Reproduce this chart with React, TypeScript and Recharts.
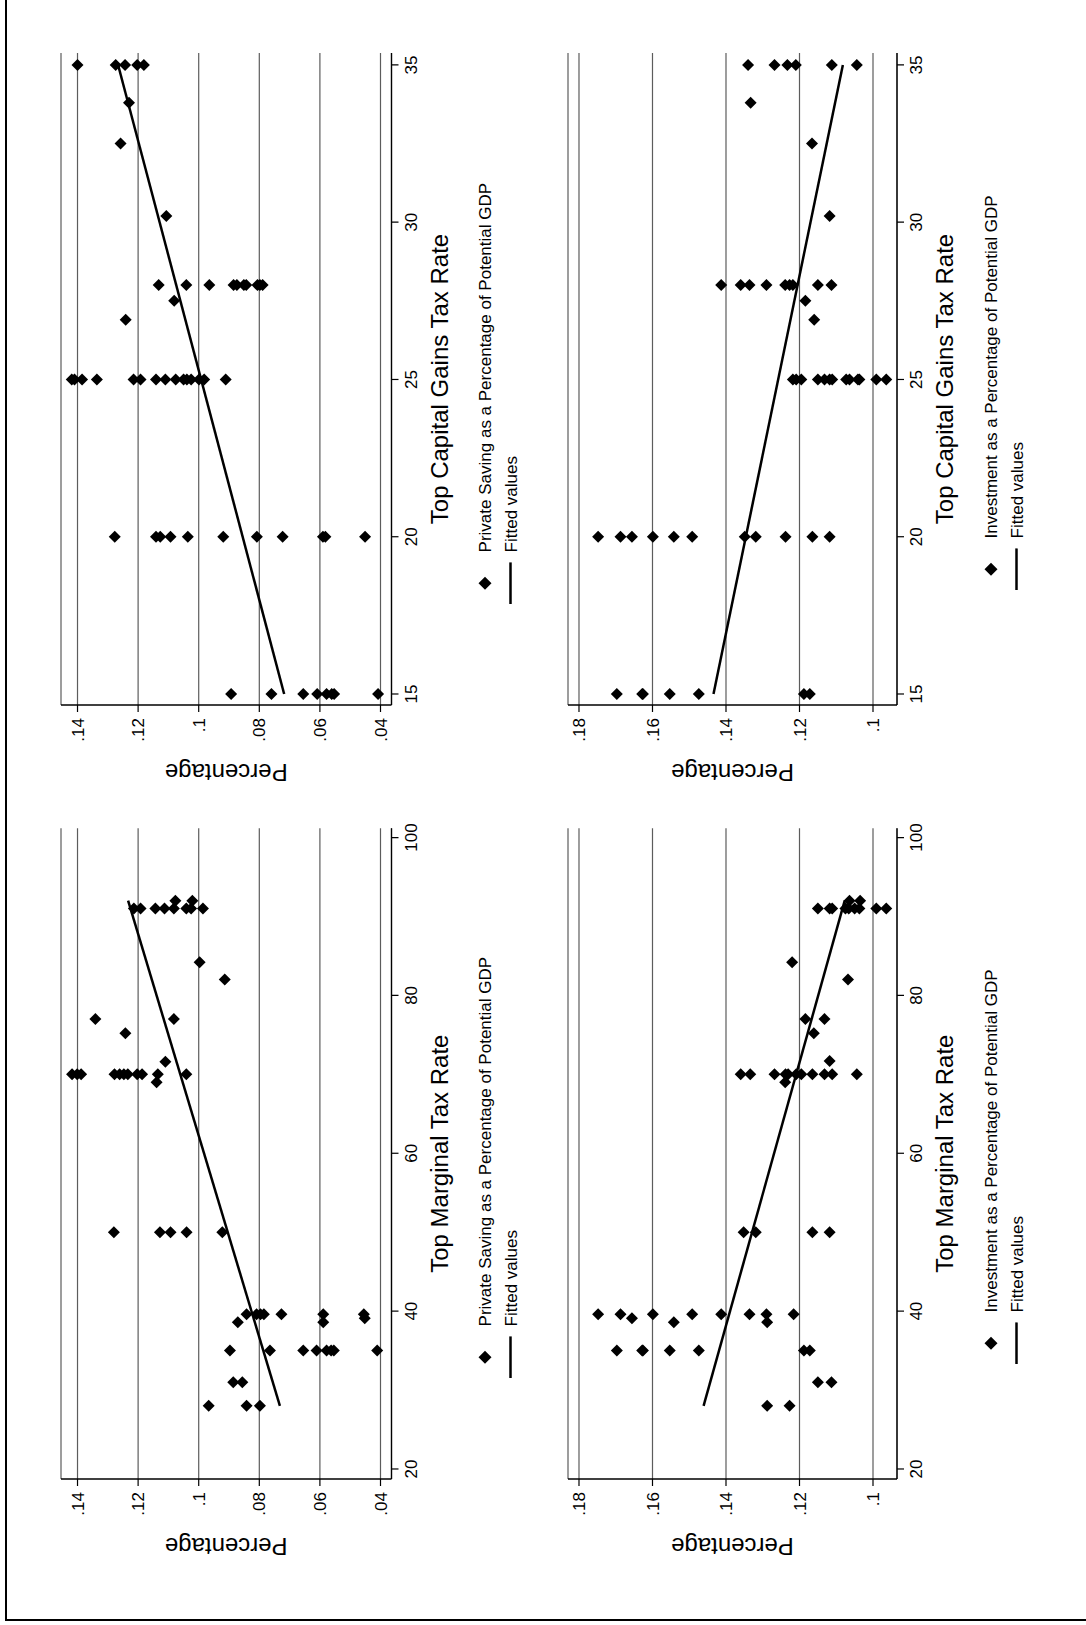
import React from 'react';
import { ScatterChart, Scatter, XAxis, YAxis, CartesianGrid, Legend } from 'recharts';

const FONT = '"Liberation Sans", Arial, Helvetica, sans-serif';

// axis ticks
const marginalTicks = [20, 40, 60, 80, 100];
const capGainsTicks = [15, 20, 25, 30, 35];
const savingTicks = [0.04, 0.06, 0.08, 0.1, 0.12, 0.14];
const investTicks = [0.1, 0.12, 0.14, 0.16, 0.18];

// [top tax rate, share of potential GDP]
const savingMarginal: [number, number][] = [
  [91, 0.1214], [91, 0.1192], [91, 0.1143], [91, 0.1113], [91, 0.1082], [91, 0.1041], [91, 0.1025], [91, 0.0986],
  [92, 0.1077], [92, 0.1021],
  [84.2, 0.0997], [82, 0.0914], [77, 0.1341], [77, 0.1082], [75.2, 0.1242], [71.6, 0.111],
  [70, 0.1418], [70, 0.1401], [70, 0.1388], [70, 0.1278], [70, 0.1261], [70, 0.1247], [70, 0.1234],
  [70, 0.1203], [70, 0.1187], [70, 0.1135], [70, 0.1041],
  [69, 0.1139],
  [50, 0.128], [50, 0.1128], [50, 0.1093], [50, 0.104], [50, 0.0922],
  [39.6, 0.0842], [39.6, 0.0809], [39.6, 0.0796], [39.6, 0.0785], [39.6, 0.0727], [39.6, 0.0589], [39.6, 0.0455],
  [39.1, 0.0452], [38.6, 0.0871], [38.6, 0.0589],
  [35, 0.0897], [35, 0.0765], [35, 0.0655], [35, 0.0611], [35, 0.0578], [35, 0.0563], [35, 0.0554], [35, 0.0411],
  [31, 0.0886], [31, 0.0856],
  [28, 0.0967], [28, 0.0842], [28, 0.0798],
];

const investMarginal: [number, number][] = [
  [91, 0.115], [91, 0.1118], [91, 0.1111], [91, 0.1075], [91, 0.1066], [91, 0.105], [91, 0.1037], [91, 0.0991], [91, 0.0964],
  [92, 0.1064], [92, 0.1035],
  [84.2, 0.122], [82, 0.1068], [77, 0.1184], [77, 0.1132], [75.2, 0.1161], [71.7, 0.1118],
  [70, 0.136], [70, 0.1334], [70, 0.1268], [70, 0.1238], [70, 0.1231], [70, 0.1209], [70, 0.1195],
  [70, 0.1165], [70, 0.1132], [70, 0.1111], [70, 0.1044],
  [69, 0.1239],
  [50, 0.1352], [50, 0.1319], [50, 0.1165], [50, 0.1118],
  [39.6, 0.1748], [39.6, 0.1687], [39.6, 0.1599], [39.6, 0.1492], [39.6, 0.1413], [39.6, 0.1336], [39.6, 0.129], [39.6, 0.1216],
  [39.1, 0.1656], [38.6, 0.1542], [38.6, 0.1288],
  [35, 0.1697], [35, 0.1628], [35, 0.1626], [35, 0.1553], [35, 0.1474], [35, 0.1188], [35, 0.1172],
  [31, 0.115], [31, 0.1113],
  [28, 0.1288], [28, 0.1227],
];

const savingCapGains: [number, number][] = [
  [35, 0.14], [35, 0.1274], [35, 0.1243], [35, 0.1203], [35, 0.1181],
  [33.8, 0.123], [32.5, 0.1258], [30.2, 0.1107],
  [28, 0.1132], [28, 0.1041], [28, 0.0965], [28, 0.0885], [28, 0.0874], [28, 0.0851], [28, 0.0843],
  [28, 0.0806], [28, 0.0798], [28, 0.0789],
  [27.5, 0.1081], [26.9, 0.1241],
  [25, 0.1419], [25, 0.141], [25, 0.1385], [25, 0.1336], [25, 0.1215], [25, 0.1192], [25, 0.1141], [25, 0.111],
  [25, 0.1076], [25, 0.105], [25, 0.1039], [25, 0.1025], [25, 0.0999], [25, 0.0982], [25, 0.0911],
  [20, 0.1277], [20, 0.1141], [20, 0.1127], [20, 0.1093], [20, 0.1036], [20, 0.0919], [20, 0.0808],
  [20, 0.0723], [20, 0.059], [20, 0.0582], [20, 0.0451],
  [15, 0.0893], [15, 0.076], [15, 0.0655], [15, 0.0609], [15, 0.0578], [15, 0.0561], [15, 0.0553], [15, 0.0408],
];

const investCapGains: [number, number][] = [
  [35, 0.134], [35, 0.1268], [35, 0.1233], [35, 0.121], [35, 0.1112], [35, 0.1044],
  [33.8, 0.1333], [32.5, 0.1166], [30.2, 0.1118],
  [28, 0.1413], [28, 0.136], [28, 0.1336], [28, 0.129], [28, 0.1239], [28, 0.1227], [28, 0.1218], [28, 0.115], [28, 0.1113],
  [27.5, 0.1184], [26.9, 0.116],
  [25, 0.1218], [25, 0.1209], [25, 0.1195], [25, 0.115], [25, 0.1132], [25, 0.1118], [25, 0.1111],
  [25, 0.1073], [25, 0.1064], [25, 0.1041], [25, 0.1037], [25, 0.0991], [25, 0.0964],
  [20, 0.1748], [20, 0.1687], [20, 0.1656], [20, 0.1599], [20, 0.1542], [20, 0.1492], [20, 0.1349],
  [20, 0.1319], [20, 0.1238], [20, 0.1165], [20, 0.1118],
  [15, 0.1697], [15, 0.1628], [15, 0.1626], [15, 0.1553], [15, 0.1474], [15, 0.1188], [15, 0.1172],
];

// fitted values (end points of the regression line)
const savingMarginalFit: [number, number][] = [[28, 0.0732], [92, 0.1233]];
const savingCapGainsFit: [number, number][] = [[15, 0.0718], [35, 0.1266]];
const investMarginalFit: [number, number][] = [[28, 0.1461], [92, 0.1077]];
const investCapGainsFit: [number, number][] = [[15, 0.1434], [35, 0.1082]];

const toRows = (pairs: [number, number][]) => pairs.map(([rate, pct]) => ({ rate, pct }));

const fmtPct = (v: number) => v.toFixed(2).replace(/^0/, '').replace(/0$/, '');

const diamond = (cx: number, cy: number, r: number) =>
  `M${cx},${cy - r}L${cx + r},${cy}L${cx},${cy + r}L${cx - r},${cy}Z`;

const Diamond = (props: any) => <path d={diamond(props.cx, props.cy, 6)} fill="#000" />;

function LegendBox({ text }: { text: string }) {
  return (
    <svg width={480} height={54} style={{ overflow: 'visible', display: 'block' }}>
      <path d={diamond(20.8, 14, 6.5)} fill="#000" />
      <text x={51.6} y={14} dy="0.355em" fontSize={17} fill="#000" fontFamily={FONT}>{text}</text>
      <line x1={0} x2={41.6} y1={39.5} y2={39.5} stroke="#000" strokeWidth={2.5} />
      <text x={51.6} y={39.5} dy="0.355em" fontSize={17} fill="#000" fontFamily={FONT}>Fitted values</text>
    </svg>
  );
}

interface PanelProps {
  left: number;
  top: number;
  w: number;
  h: number;
  data: [number, number][];
  fit: [number, number][];
  xDomain: [number, number];
  xTicks: number[];
  yDomain: [number, number];
  yTicks: number[];
  xTitle: string;
  legendText: string;
  legendDx: number;
}

function Panel({ left, top, w, h, data, fit, xDomain, xTicks, yDomain, yTicks, xTitle, legendText, legendDx }: PanelProps) {
  const ml = 100;
  const mt = 10;
  const mr = 20;
  const axisH = 170;
  const tickStyle = { fontSize: 17, fill: '#000', fontFamily: FONT };
  return (
    <div style={{ position: 'absolute', left: left - ml, top: top - mt }}>
      <ScatterChart width={ml + w + mr} height={mt + h + axisH} margin={{ top: mt, right: mr, bottom: 0, left: 0 }}>
        <CartesianGrid horizontal vertical={false} stroke="#5c5c5c" strokeWidth={1.2} />
        <XAxis
          type="number"
          dataKey="rate"
          domain={xDomain}
          ticks={xTicks}
          allowDataOverflow
          height={axisH}
          tickSize={7}
          tickMargin={6}
          tick={tickStyle}
          tickLine={{ stroke: '#000', strokeWidth: 1.2 }}
          axisLine={{ stroke: '#000', strokeWidth: 1.3 }}
          label={{ value: xTitle, position: 'insideTop', offset: 39, style: { fontSize: 24, fill: '#000', fontFamily: FONT } }}
        />
        <YAxis
          type="number"
          dataKey="pct"
          domain={yDomain}
          ticks={yTicks}
          allowDataOverflow
          width={ml}
          tickSize={7}
          tickMargin={6}
          tick={tickStyle}
          tickFormatter={fmtPct}
          tickLine={{ stroke: '#000', strokeWidth: 1.2 }}
          axisLine={{ stroke: '#000', strokeWidth: 1.3 }}
          label={(p: any) => {
            const vb = p.viewBox || {};
            const x = vb.x + vb.width - 59;
            const y = vb.y + vb.height / 2;
            return (
              <text x={x} y={y} transform={`rotate(-90, ${x}, ${y})`} textAnchor="middle" fontSize={24} fill="#000" fontFamily={FONT}>
                Percentage
              </text>
            );
          }}
        />
        <Legend
          layout="horizontal"
          align="center"
          verticalAlign="middle"
          content={() => <LegendBox text={legendText} />}
          wrapperStyle={{ left: ml + legendDx, top: mt + h + 94 - 14, width: 480, height: 54 }}
        />
        <Scatter data={toRows(data)} shape={Diamond} isAnimationActive={false} />
        <Scatter
          data={toRows(fit)}
          line={{ stroke: '#000', strokeWidth: 2.5 }}
          shape={() => <g />}
          legendType="none"
          isAnimationActive={false}
        />
      </ScatterChart>
    </div>
  );
}

export default function App() {
  const marginalDomain: [number, number] = [18.73, 101.17];
  const capGainsDomain: [number, number] = [14.65, 35.38];
  const savingDomain: [number, number] = [0.03637, 0.14545];
  const investDomain: [number, number] = [0.09347, 0.18299];
  return (
    <div style={{ position: 'absolute', left: 0, top: 0, width: 1086, height: 1625, overflow: 'hidden', background: '#fff' }}>
      <div
        style={{
          position: 'absolute',
          left: 0,
          top: 0,
          width: 1625,
          height: 1086,
          transformOrigin: '0 0',
          transform: 'translateY(1625px) rotate(-90deg)',
          fontFamily: FONT,
          background: '#fff',
        }}
      >
        <div style={{ position: 'absolute', left: 4, top: 5, width: 1660, height: 1120, borderTop: '2.5px solid #000', borderLeft: '2.5px solid #000' }} />
        <Panel
          left={146} top={60.5} w={650.7} h={330.5}
          data={savingMarginal} fit={savingMarginalFit}
          xDomain={marginalDomain} xTicks={marginalTicks}
          yDomain={savingDomain} yTicks={savingTicks}
          xTitle="Top Marginal Tax Rate"
          legendText="Private Saving as a Percentage of Potential GDP"
          legendDx={100.7}
        />
        <Panel
          left={920} top={60.5} w={652} h={330.5}
          data={savingCapGains} fit={savingCapGainsFit}
          xDomain={capGainsDomain} xTicks={capGainsTicks}
          yDomain={savingDomain} yTicks={savingTicks}
          xTitle="Top Capital Gains Tax Rate"
          legendText="Private Saving as a Percentage of Potential GDP"
          legendDx={100.7}
        />
        <Panel
          left={146} top={568.3} w={650.7} h={329}
          data={investMarginal} fit={investMarginalFit}
          xDomain={marginalDomain} xTicks={marginalTicks}
          yDomain={investDomain} yTicks={investTicks}
          xTitle="Top Marginal Tax Rate"
          legendText="Investment as a Percentage of Potential GDP"
          legendDx={114.7}
        />
        <Panel
          left={920} top={568.3} w={652} h={329}
          data={investCapGains} fit={investCapGainsFit}
          xDomain={capGainsDomain} xTicks={capGainsTicks}
          yDomain={investDomain} yTicks={investTicks}
          xTitle="Top Capital Gains Tax Rate"
          legendText="Investment as a Percentage of Potential GDP"
          legendDx={114.7}
        />
      </div>
    </div>
  );
}
